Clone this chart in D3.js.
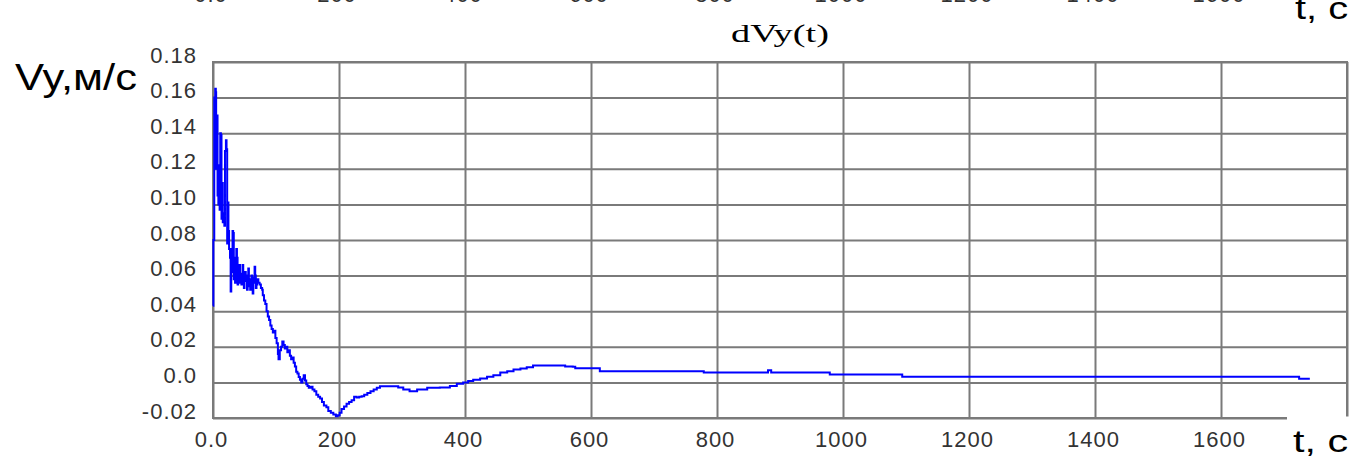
<!DOCTYPE html>
<html>
<head>
<meta charset="utf-8">
<script src="https://cdn.jsdelivr.net/npm/d3@7"></script>
<style>
  html, body { margin: 0; padding: 0; background: #fff; }
  svg { display: block; }
</style>
</head>
<body>
<div id="chart"></div>
<script>
// dVy(t) - время, с / скорость, м/с
const times = [
  0, 0.6, 1.6, 2, 3.5, 4.5, 5, 5.6, 6.5, 7.2, 7.8, 8.5, 9.5, 10.5, 11.5, 12.5, 13.5, 14.5, 15.5, 17,
  18, 19, 20.5, 21.5, 22.5, 23.5, 24.5, 25.5, 27, 28, 29, 30, 31, 32, 33, 34, 35, 36, 37, 38,
  39, 40, 41, 42, 43, 44, 45, 46, 47, 48, 49, 50, 51, 52, 53, 54, 55, 56, 57, 58,
  59, 60, 61, 62, 63, 64, 65, 66, 67, 68, 69, 70, 72, 74, 76, 78, 79, 81, 83, 85,
  87, 89, 91, 93, 95, 97, 99, 101, 103, 104, 106, 108, 110, 112, 114, 116, 118, 120, 122, 124,
  126, 128, 130, 132, 134, 136, 138, 140, 142, 144, 146, 148, 150, 152, 155, 158, 161, 164, 167, 170,
  173, 176, 180, 183, 187, 191, 195, 198, 201, 204, 208, 212, 216, 220, 224, 228, 232, 236, 240, 245,
  250, 255, 260, 265, 281, 294, 302, 312, 324, 340, 360, 376, 387, 397, 405, 413, 424, 435, 445, 456,
  467, 477, 488, 498, 508, 556, 559, 571, 575, 610, 614, 776, 779, 879, 881, 884, 886, 976, 979, 1090,
  1094, 1721, 1724, 1741
];
const dVy = [
  0.043, 0.080, 0.080, 0.160, 0.165, 0.163, 0.120, 0.148, 0.150, 0.105, 0.121, 0.100, 0.122, 0.097, 0.140, 0.139, 0.092, 0.112, 0.090, 0.095,
  0.088, 0.130, 0.136, 0.131, 0.078, 0.101, 0.085, 0.075, 0.070, 0.051, 0.062, 0.075, 0.085, 0.084, 0.058, 0.070, 0.056, 0.067, 0.075, 0.070,
  0.055, 0.062, 0.058, 0.066, 0.056, 0.060, 0.055, 0.061, 0.066, 0.060, 0.053, 0.057, 0.062, 0.060, 0.058, 0.052, 0.059, 0.064, 0.058, 0.054,
  0.052, 0.057, 0.060, 0.055, 0.050, 0.056, 0.059, 0.065, 0.060, 0.053, 0.055, 0.058, 0.056, 0.055, 0.053, 0.052, 0.049, 0.046, 0.044, 0.040,
  0.037, 0.035, 0.032, 0.030, 0.028, 0.029, 0.025, 0.022, 0.016, 0.013, 0.018, 0.020, 0.023, 0.021, 0.019, 0.020, 0.017, 0.018, 0.015, 0.013,
  0.014, 0.011, 0.009, 0.006, 0.005, 0.003, 0.0015, 0.000, 0.002, 0.004, 0.001, -0.001, -0.002, -0.003, -0.0025, -0.004, -0.005, -0.007, -0.008, -0.009,
  -0.011, -0.013, -0.014, -0.016, -0.017, -0.018, -0.019, -0.0185, -0.017, -0.015, -0.0135, -0.012, -0.011, -0.010, -0.008, -0.0085, -0.008, -0.0078, -0.007, -0.006,
  -0.005, -0.004, -0.003, -0.0022, -0.0022, -0.0028, -0.004, -0.005, -0.004, -0.003, -0.0028, -0.002, -0.0008, 0.000, 0.0008, 0.0015, 0.0022, 0.0032, 0.0040, 0.0055,
  0.0062, 0.0072, 0.0078, 0.0085, 0.0095, 0.0095, 0.0090, 0.0088, 0.0079, 0.0079, 0.0062, 0.0062, 0.0056, 0.0056, 0.0068, 0.0068, 0.0056, 0.0056, 0.0045, 0.0045,
  0.0032, 0.0032, 0.0021, 0.0021
];
const xTicks = [0, 200, 400, 600, 800, 1000, 1200, 1400, 1600, 1800];
const xTickLabels = ["0.0", "200", "400", "600", "800", "1000", "1200", "1400", "1600", ""];
const yTicks = [-0.02, 0.0, 0.02, 0.04, 0.06, 0.08, 0.10, 0.12, 0.14, 0.16, 0.18];
const yTickLabels = ["-0.02", "0.0", "0.02", "0.04", "0.06", "0.08", "0.10", "0.12", "0.14", "0.16", "0.18"];
const title = "dVy(t)";
const yLabel = "Vy,м/с";
const xLabel = "t, с";

const width = 1355, height = 458;
const plot = { left: 213, right: 1347, top: 62, bottom: 418 };
const tickFont = "'Liberation Sans', Arial, sans-serif";

const svg = d3.select("#chart").append("svg")
    .attr("width", width)
    .attr("height", height);

const x = d3.scaleLinear().domain([0, 1800]).range([plot.left, plot.right]);
const y = d3.scaleLinear().domain([-0.02, 0.18]).range([plot.bottom, plot.top]);

const fmtX = (d, i) => xTickLabels[i];
const fmtY = (d, i) => yTickLabels[i];

// остатки верхнего графика (обрезаны краем)
svg.append("g")
    .selectAll("text")
    .data(xTicks.slice(0, -1))
    .enter()
    .append("text")
    .attr("x", d => x(d) - 2)
    .attr("y", 1.5)
    .attr("text-anchor", "middle")
    .style("font-family", tickFont)
    .style("font-size", "22px")
    .style("letter-spacing", "1px")
    .style("fill", "#333")
    .text((d, i) => xTickLabels[i]);
svg.append("text")
    .attr("x", 1295)
    .attr("y", 19)
    .attr("textLength", 53)
    .attr("lengthAdjust", "spacingAndGlyphs")
    .style("font-family", tickFont)
    .style("font-size", "32px")
    .text(xLabel);

// сетка
const xAxis = d3.axisBottom(x)
    .tickValues(xTicks)
    .tickSizeInner(-(plot.bottom - plot.top))
    .tickSizeOuter(0)
    .tickFormat(fmtX);
const gx = svg.append("g")
    .attr("transform", `translate(0,${plot.bottom})`)
    .call(xAxis);
gx.select(".domain").remove();
gx.selectAll("line").attr("stroke", "#7a7a7a").attr("stroke-width", 2);
gx.selectAll("text")
    .attr("y", 29)
    .attr("dy", 0)
    .attr("dx", -2)
    .style("font-family", tickFont)
    .style("font-size", "22px")
    .style("letter-spacing", "1px")
    .style("fill", "#333");

const yAxis = d3.axisLeft(y)
    .tickValues(yTicks)
    .tickSizeInner(-(plot.right - plot.left))
    .tickSizeOuter(0)
    .tickFormat(fmtY);
const gy = svg.append("g")
    .attr("transform", `translate(${plot.left},0)`)
    .call(yAxis);
gy.select(".domain").remove();
gy.selectAll("line").attr("stroke", "#7a7a7a").attr("stroke-width", 2);
gy.selectAll("text")
    .attr("x", -16)
    .attr("dy", 0)
    .style("font-family", tickFont)
    .style("font-size", "22px")
    .style("letter-spacing", "1px")
    .style("fill", "#333");

svg.append("rect")
    .attr("x", plot.left)
    .attr("y", plot.top)
    .attr("width", plot.right - plot.left)
    .attr("height", plot.bottom - plot.top)
    .attr("fill", "none")
    .attr("stroke", "#7a7a7a")
    .attr("stroke-width", 2);

// кривая (ступенчатая, как у исходного прибора)
const line = d3.line()
    .curve(d3.curveStepAfter)
    .x((d, i) => x(times[i]))
    .y(d => y(d));
svg.append("path")
    .datum(dVy)
    .attr("d", line)
    .attr("fill", "none")
    .attr("stroke", "#0000ff")
    .attr("stroke-width", 2)
    .attr("stroke-linejoin", "miter");

// заголовок и подписи осей
svg.append("text")
    .attr("x", (plot.left + plot.right) / 2 - 49)
    .attr("y", 42)
    .attr("textLength", 98)
    .attr("lengthAdjust", "spacingAndGlyphs")
    .style("font-family", "'Liberation Serif', 'Times New Roman', serif")
    .style("font-size", "26px")
    .text(title);

svg.append("text")
    .attr("x", 15)
    .attr("y", 90)
    .attr("textLength", 122)
    .attr("lengthAdjust", "spacingAndGlyphs")
    .style("font-family", tickFont)
    .style("font-size", "37px")
    .text(yLabel);

svg.append("rect")
    .attr("x", 1287)
    .attr("y", 416.5)
    .attr("width", width - 1287)
    .attr("height", height - 416.5)
    .attr("fill", "#fff");
svg.append("text")
    .attr("x", 1293)
    .attr("y", 452)
    .attr("textLength", 55)
    .attr("lengthAdjust", "spacingAndGlyphs")
    .style("font-family", tickFont)
    .style("font-size", "32px")
    .text(xLabel);
</script>
</body>
</html>
